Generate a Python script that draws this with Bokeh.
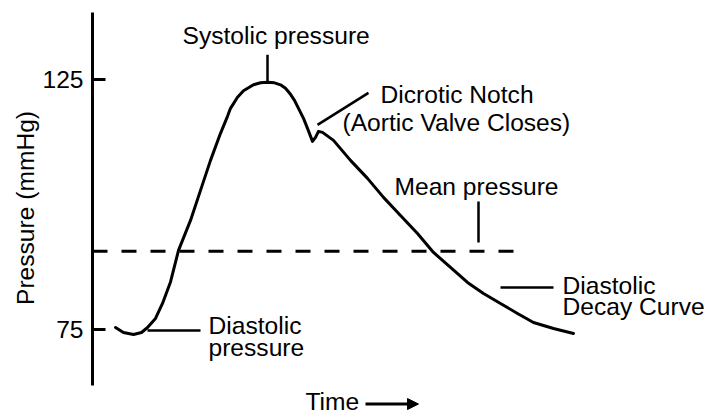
from bokeh.plotting import figure
from bokeh.models import Range1d, FixedTicker, Arrow, NormalHead, ColumnDataSource, Label
from bokeh.core.properties import value
from bokeh.embed import file_html
from bokeh.resources import INLINE

# ---- data (time in arbitrary units, pressure in mmHg) ----
time = [23, 31, 41, 49, 55, 63, 70, 78, 86, 98, 108, 118, 128, 135, 138, 145, 151,
        161, 168, 175, 182, 188, 193, 198, 202, 206, 211, 215, 220, 223, 226, 230,
        241, 258, 275, 291, 308, 325, 341, 358, 375, 391, 408, 425, 441, 461, 481]
pressure = [75.5, 74.5, 74.1, 74.5, 75.5, 77.3, 80.3, 84.6, 90.9, 96.9, 102.9, 108.9,
            114.3, 117.7, 119.3, 121.5, 122.8, 124.0, 124.4, 124.5, 124.4, 124.0,
            123.3, 122.1, 120.9, 119.3, 117.3, 115.3, 112.7, 113.5, 114.7, 114.5,
            112.9, 108.9, 105.3, 101.5, 97.9, 94.3, 90.5, 87.5, 84.5, 82.3, 80.3,
            78.3, 76.5, 75.3, 74.3]
mean_pressure = 90.75
mean_span = [0, 428]
y_ticks = [75, 125]

FONT = value("Liberation Sans")
FS = "24.6px"

p = figure(width=712, height=415, output_backend="svg", toolbar_location=None,
           x_range=Range1d(0, 620), y_range=Range1d(57.91, 140.85),
           x_axis_location=None, min_border_left=92, min_border_right=0,
           min_border_top=0, min_border_bottom=0)
p.outline_line_color = None
p.xgrid.visible = False
p.ygrid.visible = False
p.background_fill_color = "white"
p.border_fill_color = "white"

ax = p.yaxis[0]
ax.bounds = (63.91, 138.45)
ax.ticker = FixedTicker(ticks=y_ticks)
ax.axis_line_width = 3
ax.axis_line_color = "black"
ax.major_tick_line_width = 3
ax.major_tick_line_color = "black"
ax.major_tick_in = 13
ax.major_tick_out = 0
ax.minor_tick_line_color = None
ax.major_label_text_font = "Liberation Sans"
ax.major_label_text_font_size = FS
ax.major_label_text_color = "black"
ax.major_label_standoff = 9
ax.axis_label = "Pressure (mmHg)"
ax.axis_label_text_font = "Liberation Sans"
ax.axis_label_text_font_size = FS
ax.axis_label_text_font_style = "normal"
ax.axis_label_text_color = "black"
ax.axis_label_standoff = 0

# mean pressure dashed line
p.line(x=mean_span, y=[mean_pressure, mean_pressure], line_color="black",
       line_width=3, line_dash="15 14")

# pressure curve
p.line(x=time, y=pressure, line_color="black", line_width=3,
       line_join="round", line_cap="round")

# annotation pointer lines (layout)
ptr_x0 = [175, 276, 386, 408, 55]
ptr_y0 = [130.0, 122.4, 100.7, 83.5, 74.9]
ptr_x1 = [175, 225, 386, 461, 108]
ptr_y1 = [124.6, 116.0, 92.5, 83.5, 74.9]
p.segment(x0=ptr_x0, y0=ptr_y0, x1=ptr_x1, y1=ptr_y1, line_color="black", line_width=2.5)

# annotation texts (layout: left x, baseline y)
lab_txt = ["Systolic pressure", "Dicrotic Notch", "(Aortic Valve Closes)", "Mean pressure",
           "Diastolic", "Decay Curve", "Diastolic", "pressure"]
lab_x = [90, 288, 250, 302, 470, 470, 116, 116]
lab_y = [133.95, 122.15, 116.4, 103.6, 83.8, 79.6, 75.8, 71.6]
src = ColumnDataSource(dict(x=lab_x, y=lab_y, t=lab_txt))
p.text(x="x", y="y", text="t", source=src, text_font=FONT, text_font_size=FS,
       text_color="black", text_align="left", text_baseline="alphabetic")

# x-axis caption with arrow
p.add_layout(Label(x=213, y=60.8, text="Time", text_font="Liberation Sans",
                   text_font_size=FS, text_color="black", text_align="left",
                   text_baseline="alphabetic"))
p.add_layout(Arrow(end=NormalHead(size=11, fill_color="black", line_color="black"),
                   x_start=273, y_start=60.2, x_end=326, y_end=60.2,
                   line_color="black", line_width=3))

open("out.html", "w").write(file_html(p, INLINE))
